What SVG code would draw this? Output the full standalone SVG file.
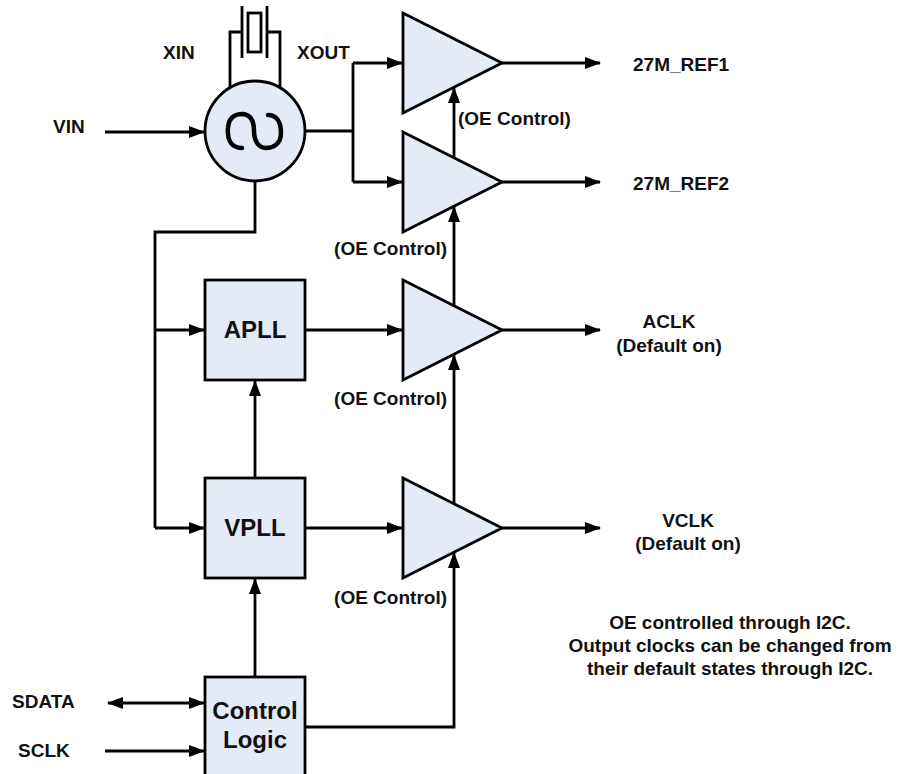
<svg xmlns="http://www.w3.org/2000/svg" width="898" height="774" viewBox="0 0 898 774">
<style>
.box{fill:#e4eaf6;stroke:#000;stroke-width:2.8}
.ln{fill:none;stroke:#000;stroke-width:2.8}
.ar{fill:none;stroke:#000;stroke-width:2.8;marker-end:url(#ah)}
text{font-family:"Liberation Sans",Arial,sans-serif;font-weight:bold;fill:#111}
.t{font-size:19px}
.b{font-size:24px;text-anchor:middle}
.c{text-anchor:middle}
</style>
<defs>
<marker id="ah" markerWidth="16" markerHeight="12" refX="15" refY="6" orient="auto" markerUnits="userSpaceOnUse">
<path d="M0,0 L16,6 L0,12 Z" fill="#000"/>
</marker>
<marker id="as" markerWidth="16" markerHeight="12" refX="1" refY="6" orient="auto" markerUnits="userSpaceOnUse">
<path d="M16,0 L0,6 L16,12 Z" fill="#000"/>
</marker>
</defs>
<g id="connectors">
<path class="ar" d="M105,132 H204"/>
<path class="ln" d="M305,131 H353 M353,63 V182"/>
<path class="ar" d="M353,63 H402"/>
<path class="ar" d="M353,182 H402"/>
<path class="ar" d="M502,63 H600"/>
<path class="ar" d="M502,182 H600"/>
<path class="ar" d="M502,330 H600"/>
<path class="ar" d="M502,528 H600"/>
<path class="ar" d="M454,158 V88"/>
<path class="ar" d="M454,306 V207"/>
<path class="ar" d="M454,504 V355"/>
<path class="ar" d="M305,727 H454 V553"/>
<path class="ln" d="M255,182 V232 H155 V528"/>
<path class="ar" d="M155,330 H204"/>
<path class="ar" d="M155,528 H204"/>
<path class="ar" d="M305,330 H402"/>
<path class="ar" d="M305,528 H402"/>
<path class="ar" d="M255,478 V381"/>
<path class="ar" d="M255,677 V579"/>
<path class="ar" d="M108,703 H204" marker-start="url(#as)"/>
<path class="ar" d="M105,751 H204"/>
</g>
<g id="crystal">
<path class="ln" d="M230,88 V32 H242 M280,88 V32 H267 M242,6 V58 M267,6 V58"/>
<rect x="248" y="13" width="13" height="39" fill="#fff" stroke="#000" stroke-width="2.8"/>
</g>
<g id="oscillator">
<circle class="box" cx="255" cy="131" r="50"/>
<path d="M242,148 C230,148 227,138 228,128 C229,114 239,114 243,114 C251,115 254,122 254,131 C254,140 258,148 266,148 C272,148 281,145 281,133 C281,121 276,115 268,115" fill="none" stroke="#000" stroke-width="4.5" stroke-linecap="round"/>
</g>
<g id="buf1"><path class="box" d="M403,13 V113 L502,63 Z"/></g>
<g id="buf2"><path class="box" d="M403,132 V232 L502,182 Z"/></g>
<g id="buf3"><path class="box" d="M403,280 V380 L502,330 Z"/></g>
<g id="buf4"><path class="box" d="M403,478 V578 L502,528 Z"/></g>
<g id="apll"><rect class="box" x="205" y="280" width="100" height="100"/><text class="b" x="255" y="338">APLL</text></g>
<g id="vpll"><rect class="box" x="205" y="478" width="100" height="100"/><text class="b" x="255" y="536">VPLL</text></g>
<g id="control"><rect class="box" x="205" y="677" width="100" height="110"/><text class="b" x="255" y="719">Control</text><text class="b" x="255" y="748">Logic</text></g>
<g id="labels" class="t">
<text x="53" y="133">VIN</text>
<text x="163" y="59">XIN</text>
<text x="297" y="59">XOUT</text>
<text x="633" y="71">27M_REF1</text>
<text x="633" y="190">27M_REF2</text>
<text x="669" y="328" class="c">ACLK</text>
<text x="669" y="352" class="c">(Default on)</text>
<text x="688" y="527" class="c">VCLK</text>
<text x="688" y="550" class="c">(Default on)</text>
<text x="458" y="125">(OE Control)</text>
<text x="447" y="255" text-anchor="end">(OE Control)</text>
<text x="447" y="405" text-anchor="end">(OE Control)</text>
<text x="447" y="604" text-anchor="end">(OE Control)</text>
<text x="12" y="708">SDATA</text>
<text x="18" y="757">SCLK</text>
<text x="730" y="629" class="c">OE controlled through I2C.</text>
<text x="730" y="652" class="c">Output clocks can be changed from</text>
<text x="730" y="675" class="c">their default states through I2C.</text>
</g>
</svg>
